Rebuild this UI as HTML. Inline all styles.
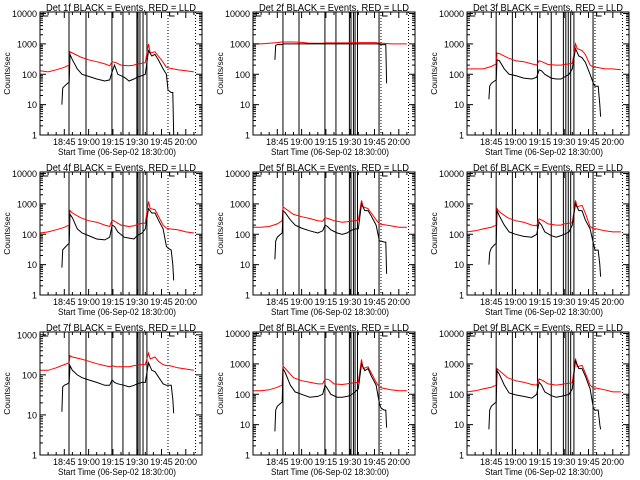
<!DOCTYPE html>
<html><head><meta charset="utf-8"><style>
html,body{margin:0;padding:0;background:#fff;}
svg{display:block;font-family:"Liberation Sans",sans-serif;}
</style></head><body>
<svg id="chart" width="640" height="480" viewBox="0 0 640 480" xmlns="http://www.w3.org/2000/svg"></svg>
<script>
// Shared time samples (minutes after 18:30:00)
const redTimes = [0,5,10,15,18,18.5,20,25,30,35,40,43,44.5,47,50,55,58,60,63,65,67,68,71,73,76,78,80,85,90,95];
const blackTimes = [13.5,14,15,17,18,18.5,20,23,26,30,35,40,43,44.5,46,48,52,55,58,60,63,65,67,69,71,73,76,78,79,81,82,82.5];
const xTickMinutes = [15,30,45,60,75,90];
const xTickLabels = ["18:45","19:00","19:15","19:30","19:45","20:00"];
const detNames = ["1f","2f","3f","4f","5f","6f","7f","8f","9f"];
const yMaxLog = [4.05,4.05,4.05,4.05,4.05,4.05,3.07,4.05,4.05];

const red1 = [130,120,140,170,200,550,500,370,300,260,220,190,260,240,200,190,200,220,230,240,1000,500,550,400,250,170,160,140,130,120];
const red2 = [1000,1000,1050,1100,1150,1150,1150,1150,1120,1050,1050,1050,1080,1080,1080,1080,1080,1100,1100,1100,1100,1100,1100,1100,1100,1050,1050,1000,1000,1000];
const red3 = [150,150,150,180,220,500,480,350,280,260,220,200,280,250,210,200,200,210,220,230,1000,700,600,450,200,170,170,150,150,140];
const red4 = [110,120,140,170,200,600,500,350,280,250,200,180,300,250,200,180,190,210,230,230,1200,700,650,400,200,160,150,140,120,110];
const red5 = [170,170,180,220,280,800,700,450,380,330,280,270,350,320,280,250,260,270,280,290,1300,800,700,500,300,220,210,190,170,170];
const red6 = [120,130,150,170,200,700,550,350,280,250,200,190,320,280,220,200,200,220,230,240,1300,800,900,500,180,150,150,130,120,120];
const red7 = [130,130,150,180,200,300,280,250,220,190,170,160,170,160,160,160,170,175,180,180,350,250,280,220,180,170,170,150,140,130];
const red8 = [130,130,140,170,200,850,700,350,280,250,220,220,320,300,220,210,220,230,240,250,1400,700,800,500,250,170,160,140,130,130];
const red9 = [120,130,150,170,200,700,600,350,280,250,210,200,320,280,220,200,210,220,230,240,1500,800,900,500,200,160,160,140,120,120];

const black1 = [10,35,40,50,55,450,300,150,100,85,70,60,65,120,200,100,80,60,70,80,90,100,600,400,450,300,150,100,30,25,25,1];
const black2 = [300,900,950,950,950,1000,1000,1000,1000,1000,1000,1000,1000,1000,1000,1000,1000,1000,1000,1000,1000,1000,1000,1000,1000,1000,1000,1000,950,950,950,50];
const black3 = [15,40,50,60,65,300,280,150,100,90,75,70,80,140,130,100,75,70,70,80,100,150,700,400,350,250,100,50,40,40,10,4];
const black4 = [8,30,35,45,50,450,350,150,110,90,70,65,80,200,180,120,80,75,70,90,110,150,700,500,500,300,150,40,35,30,10,3];
const black5 = [15,60,80,100,110,600,500,300,200,160,130,110,130,200,180,140,110,100,110,130,150,150,1000,600,600,400,200,60,60,55,55,5];
const black6 = [10,25,35,45,50,600,400,200,120,100,85,80,100,250,200,120,90,80,90,100,120,200,1000,600,600,300,150,50,30,30,10,4];
const black7 = [12,50,55,60,65,170,130,100,85,75,65,55,55,75,65,60,55,50,55,60,65,65,200,130,120,90,60,55,55,55,25,11];
const black8 = [6,30,40,50,55,700,500,200,120,100,80,85,100,200,150,100,80,80,85,90,120,150,1000,600,700,400,200,50,35,30,30,8];
const black9 = [7,30,40,50,55,600,450,200,110,95,85,75,100,250,200,120,90,80,85,90,100,150,1300,700,700,400,150,35,30,30,10,7];

const solidLinesCol1 = [17.9,28.4,44.4,51.2,59.8,60.5,61.7,63.6,66];
const solidLinesCol2 = [18.5,28.4,44.4,51.2,59.5,60.5,62,63,64.5,77.8];
const solidLinesCol3 = [18,28,43.5,52,59.5,61,62.5,64,66,77.8];
const dottedLinesCol = [79,96];

const reds = [red1,red2,red3,red4,red5,red6,red7,red8,red9];
const blacks = [black1,black2,black3,black4,black5,black6,black7,black8,black9];
const solidCols = [solidLinesCol1,solidLinesCol2,solidLinesCol3];

const NS = "http://www.w3.org/2000/svg";
const svg = document.getElementById("chart");
const colX = [40,253,467];
const rowY = [12,172,332];
const W = 162, H = 123, XMAX = 100;

function mk(tag, attrs, parent){
  const e = document.createElementNS(NS, tag);
  for (const k in attrs) e.setAttribute(k, attrs[k]);
  parent.appendChild(e);
  return e;
}

for (let p = 0; p < 9; p++) {
  const c = p % 3, r = Math.floor(p / 3);
  const x0 = colX[c], y0 = rowY[r], yb = y0 + H;
  const ymax = yMaxLog[p];
  const xs = t => x0 + t / XMAX * W;
  const ys = v => yb - Math.log10(Math.max(v, 1)) / ymax * H;
  const g = mk("g", {}, svg);
  
  

  solidCols[c].forEach(t => {
    const l = mk("line", {x1: xs(t), x2: xs(t), y1: y0, y2: yb, stroke: "#000", "stroke-width": 1}, g);
    
    
  });
  dottedLinesCol.forEach(t => {
    const l = mk("line", {x1: xs(t), x2: xs(t), y1: y0, y2: yb, stroke: "#000", "stroke-width": 1, "stroke-dasharray": "1,2"}, g);
    
    
  });
  [2, 80].forEach(t => {
    const h = mk("path", {d: `M${xs(t)+5},${y0+4} H${xs(t)} V${y0} H${xs(t)+6}`, fill: "none", stroke: "#000", "stroke-width": 1}, g);
    
    
  });

  const rp = mk("polyline", {points: redTimes.map((t, i) => xs(t).toFixed(1) + "," + ys(reds[p][i]).toFixed(1)).join(" "), fill: "none", stroke: "#ff0000", "stroke-width": 1}, g);
  
  
  const bp = mk("polyline", {points: blackTimes.map((t, i) => xs(t).toFixed(1) + "," + ys(blacks[p][i]).toFixed(1)).join(" "), fill: "none", stroke: "#000", "stroke-width": 1}, g);
  
  

  const fr = mk("rect", {x: x0, y: y0, width: W, height: H, fill: "none", stroke: "#000", "stroke-width": 1}, g);
  
  

  const maxDec = Math.floor(ymax);
  for (let d = 0; d <= maxDec; d++) {
    const y = ys(Math.pow(10, d));
    mk("line", {x1: x0, x2: x0 + 6, y1: y, y2: y, stroke: "#000"}, g);
    mk("line", {x1: x0 + W, x2: x0 + W - 6, y1: y, y2: y, stroke: "#000"}, g);
    const tl = mk("text", {x: x0 - 3, y: y + 3.5, "font-size": 9, "text-anchor": "end"}, g);
    tl.textContent = String(Math.pow(10, d));
    
    
    for (let m = 2; m <= 9; m++) {
      const lv = d + Math.log10(m);
      if (lv > ymax) break;
      const ym = yb - lv / ymax * H;
      mk("line", {x1: x0, x2: x0 + 3, y1: ym, y2: ym, stroke: "#000"}, g);
      mk("line", {x1: x0 + W, x2: x0 + W - 3, y1: ym, y2: ym, stroke: "#000"}, g);
    }
  }
  xTickMinutes.forEach((t, i) => {
    const x = xs(t);
    mk("line", {x1: x, x2: x, y1: yb, y2: yb - 6, stroke: "#000"}, g);
    mk("line", {x1: x, x2: x, y1: y0, y2: y0 + 6, stroke: "#000"}, g);
    const tl = mk("text", {x: x, y: yb + 10, "font-size": 9, "text-anchor": "middle"}, g);
    tl.textContent = xTickLabels[i];
    
    
  });
  for (let t = 5; t < XMAX; t += 5) {
    if (t % 15 === 0) continue;
    mk("line", {x1: xs(t), x2: xs(t), y1: yb, y2: yb - 3, stroke: "#000"}, g);
    mk("line", {x1: xs(t), x2: xs(t), y1: y0, y2: y0 + 3, stroke: "#000"}, g);
  }
  const ti = mk("text", {x: x0 + W / 2, y: y0 - 1, "font-size": 10, "text-anchor": "middle", textLength: 150, lengthAdjust: "spacingAndGlyphs"}, g);
  ti.textContent = "Det " + detNames[p] + " BLACK = Events, RED = LLD";
  
  
  const xl = mk("text", {x: x0 + W / 2 - 4, y: yb + 20, "font-size": 9.5, "text-anchor": "middle", textLength: 118, lengthAdjust: "spacingAndGlyphs"}, g);
  xl.textContent = "Start Time (06-Sep-02 18:30:00)";
  
  
  const yl = mk("text", {x: 0, y: 0, "font-size": 8.5, "text-anchor": "middle", transform: `translate(${x0 - 30},${y0 + H / 2}) rotate(-90)`}, g);
  yl.textContent = "Counts/sec";
  
  
}
</script>
</body></html>
